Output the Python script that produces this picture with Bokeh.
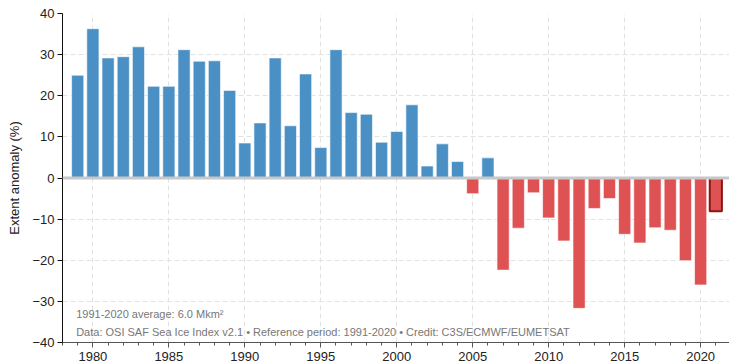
from bokeh.plotting import figure
from bokeh.models import Range1d, SingleIntervalTicker, Span, Label, ColumnDataSource
from bokeh.embed import file_html
from bokeh.resources import INLINE

years = list(range(1979, 2022))
anomaly = [25.0, 36.3, 29.2, 29.5, 31.9, 22.3, 22.3, 31.2, 28.4, 28.5,
           21.3, 8.5, 13.4, 29.2, 12.7, 25.3, 7.4, 31.2, 15.9, 15.5,
           8.7, 11.3, 17.8, 2.9, 8.3, 4.0, -3.8, 4.9, -22.4, -12.2,
           -3.6, -9.7, -15.3, -31.7, -7.4, -5.0, -13.7, -15.8, -12.1, -12.7,
           -20.1, -26.0, -8.1]
y_ticks = [-40, -30, -20, -10, 0, 10, 20, 30, 40]
note_avg = "1991-2020 average: 6.0 Mkm²"
note_src = "Data: OSI SAF Sea Ice Index v2.1 • Reference period: 1991-2020 • Credit: C3S/ECMWF/EUMETSAT"
y_label = "Extent anomaly (%)"

BLUE = "#4a90c4"
RED = "#de5254"

colors = [BLUE if v >= 0 else RED for v in anomaly]
src = ColumnDataSource(dict(x=years[:-1], top=anomaly[:-1], color=colors[:-1]))
src_last = ColumnDataSource(dict(x=years[-1:], top=anomaly[-1:]))

p = figure(width=729, height=364, output_backend="svg", toolbar_location=None,
           x_range=Range1d(1978.0, 2021.9), y_range=Range1d(-40, 40),
           min_border_left=62, min_border_right=0, min_border_top=13, min_border_bottom=22)
p.outline_line_color = None
p.background_fill_color = "white"

p.vbar(x="x", top="top", bottom=0, width=0.8, fill_color="color", line_color="white",
       line_alpha=0.6, line_width=1, source=src)
p.vbar(x="x", top="top", bottom=0, width=0.8, fill_color=RED, line_color="#8b1515",
       line_width=2, source=src_last)

p.add_layout(Span(location=0, dimension="width", line_color="#c8c8c8", line_width=3))

# axes
p.xaxis.ticker = SingleIntervalTicker(interval=5, num_minor_ticks=5)
p.yaxis.ticker = y_ticks
p.yaxis.minor_tick_line_color = None
for ax in (p.xaxis[0], p.yaxis[0]):
    ax.major_label_text_font = "Liberation Sans"
    ax.major_label_text_font_size = "13px"
    ax.major_label_text_color = "#222222"
    ax.major_tick_out = 5
    ax.major_tick_in = 0
ax = p.xaxis[0]
ax.axis_line_color = "#555555"
ax.major_tick_line_color = "#555555"
ax.minor_tick_line_color = "#555555"
ax.minor_tick_out = 3
ax.minor_tick_in = 0
ax.major_label_standoff = 4
ay = p.yaxis[0]
ay.axis_line_color = "#111111"
ay.major_tick_line_color = "#111111"
ay.major_label_standoff = 3
ay.axis_label = y_label
ay.axis_label_text_font = "Liberation Sans"
ay.axis_label_text_font_size = "13px"
ay.axis_label_text_font_style = "normal"
ay.axis_label_text_color = "#222222"
ay.axis_label_standoff = 7

for g in (p.xgrid[0], p.ygrid[0]):
    g.grid_line_color = "#e2e2e2"
    g.grid_line_dash = "5 3"
    g.grid_line_width = 1
p.ygrid[0].ticker = y_ticks

p.add_layout(Label(x=1978.9, y=-33.0, text=note_avg, text_font="Liberation Sans",
                   text_font_size="11px", text_color="#777777", text_baseline="middle"))
p.add_layout(Label(x=1978.9, y=-37.4, text=note_src, text_font="Liberation Sans",
                   text_font_size="11px", text_color="#777777", text_baseline="middle"))

open("out.html", "w").write(file_html(p, INLINE))
